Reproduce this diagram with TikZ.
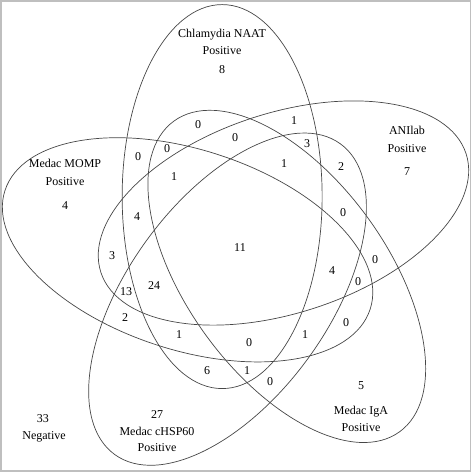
\documentclass[tikz,border=0pt]{standalone}
\usepackage{fontspec}
\setmainfont{Liberation Serif}
\usetikzlibrary{calc}
\begin{document}
\begin{tikzpicture}[x=1pt,y=1pt,
  venn/.style={draw=black!72,line width=0.7pt},
  lab/.style={anchor=base,inner sep=0pt,font=\fontsize{12}{14}\selectfont},
  frame/.style={draw=black!25,line width=1.5pt}]
\useasboundingbox (0,0) rectangle (472,472);
\draw[frame] (0.8,1.2) rectangle (470.6,471.2);
\coordinate (O) at (241.5,225);
\coordinate (C0) at ($(O)+(111:54)$);
\coordinate (C1) at ($(O)+(39:54)$);
\coordinate (C2) at ($(O)+(-33:54)$);
\coordinate (C3) at ($(O)+(-105:54)$);
\coordinate (C4) at ($(O)+(-177:54)$);
\draw[venn] (C0) ellipse [x radius=100,y radius=192];
\draw[venn,rotate around={-72:(C1)}] (C1) ellipse [x radius=100,y radius=192];
\draw[venn,rotate around={-144:(C2)}] (C2) ellipse [x radius=100,y radius=192];
\draw[venn,rotate around={-216:(C3)}] (C3) ellipse [x radius=100,y radius=192];
\draw[venn,rotate around={-288:(C4)}] (C4) ellipse [x radius=100,y radius=192];
% set titles
\node[lab] (t0a) at (222,434.3) {Chlamydia NAAT};
\node[lab] (t0b) at (222,417) {Positive};
\node[lab] (t0c) at (222,398) {8};
\node[lab] (t1a) at (407,337.7) {ANIlab};
\node[lab] (t1b) at (407,319.7) {Positive};
\node[lab] (t1c) at (407,296) {7};
\node[lab] (t4a) at (65,304.3) {Medac MOMP};
\node[lab] (t4b) at (65,286.7) {Positive};
\node[lab] (t4c) at (65,262) {4};
\node[lab] (t2c) at (361,82.7) {5};
\node[lab] (t2a) at (361,57.7) {Medac IgA};
\node[lab] (t2b) at (361,40.3) {Positive};
\node[lab] (t3c) at (157,53) {27};
\node[lab] (t3a) at (157,37) {Medac cHSP60};
\node[lab] (t3b) at (157,20.3) {Positive};
\node[lab] (nga) at (43,49.3) {33};
\node[lab] (ngb) at (44,32) {Negative};
% region counts
\node[lab] (r1) at (198,343) {0};
\node[lab] (r2) at (235,330) {0};
\node[lab] (r3) at (294,347) {1};
\node[lab] (r4) at (307,324) {3};
\node[lab] (r5) at (138,311) {0};
\node[lab] (r6) at (167,319) {0};
\node[lab] (r7) at (174,291) {1};
\node[lab] (r8) at (284,304) {1};
\node[lab] (r9) at (137,251) {4};
\node[lab] (r10) at (112,212) {3};
\node[lab] (r11) at (126,176) {13};
\node[lab] (r12) at (154,182) {24};
\node[lab] (r13) at (125,150) {2};
\node[lab] (r14) at (179,133) {1};
\node[lab] (r15) at (240,220) {11};
\node[lab] (r16) at (341,301) {2};
\node[lab] (r17) at (343,255) {0};
\node[lab] (r18) at (375,208) {0};
\node[lab] (r19) at (332,197) {4};
\node[lab] (r20) at (358,186) {0};
\node[lab] (r21) at (346,145) {0};
\node[lab] (r22) at (305,133) {1};
\node[lab] (r23) at (249,125) {0};
\node[lab] (r24) at (207,97) {6};
\node[lab] (r25) at (247,97) {1};
\node[lab] (r26) at (270,86) {0};
\end{tikzpicture}
\end{document}
